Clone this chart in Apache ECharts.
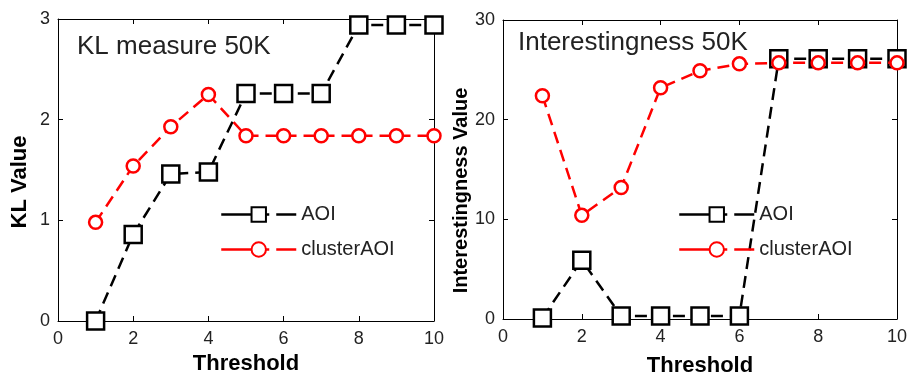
<!DOCTYPE html>
<html><head><meta charset="utf-8">
<script src="https://cdn.jsdelivr.net/npm/echarts@6/dist/echarts.min.js"></script>
<style>html,body{margin:0;padding:0;background:#fff}#c{width:911px;height:382px}</style>
</head><body><div id="c"></div>
<script>
const thresholds = [1,2,3,4,5,6,7,8,9,10];
const klAOI = [0, 0.86, 1.46, 1.48, 2.26, 2.26, 2.26, 2.94, 2.94, 2.94];
const klCluster = [0.98, 1.54, 1.93, 2.25, 1.84, 1.84, 1.84, 1.84, 1.84, 1.84];
const intAOI = [0.1, 5.9, 0.3, 0.3, 0.3, 0.3, 26.1, 26.1, 26.1, 26.1];
const intCluster = [22.4, 10.4, 13.2, 23.2, 24.9, 25.6, 25.7, 25.7, 25.7, 25.7];
const panelTitles = ['KL measure 50K', 'Interestingness 50K'];
const yNames = ['KL Value', 'Interestingness Value'];
const xName = 'Threshold';
const seriesNames = ['AOI', 'clusterAOI'];

const FONT = 'Liberation Sans';
const pairs = (ys) => thresholds.map((x, i) => [x, ys[i]]);

const chart = echarts.init(document.getElementById('c'), null, {renderer: 'canvas'});

function xAxes(gi, gap) {
  return [
    {gridIndex: gi, type: 'value', min: 0, max: 10, interval: 2,
     name: xName, nameLocation: 'middle', nameGap: gap,
     nameTextStyle: {fontFamily: FONT, fontWeight: 'bold', fontSize: 22, color: '#000'},
     axisLine: {onZero: false, lineStyle: {color: '#000', width: 1}},
     axisTick: {inside: true, length: 5, lineStyle: {color: '#000'}},
     axisLabel: {fontFamily: FONT, fontSize: 18, color: '#222', margin: 9},
     splitLine: {show: false}},
    {gridIndex: gi, type: 'value', min: 0, max: 10, interval: 2, position: 'top',
     axisLine: {onZero: false, lineStyle: {color: '#000', width: 1}},
     axisTick: {inside: true, length: 5, lineStyle: {color: '#000'}},
     axisLabel: {show: false}, splitLine: {show: false}}
  ];
}
function yAxes(gi, max, interval, gap, size, shift) {
  return [
    {gridIndex: gi, type: 'value', min: 0, max: max, interval: interval,
     name: yNames[gi], nameLocation: 'middle', nameGap: gap, nameRotate: 90,
     nameTextStyle: {fontFamily: FONT, fontWeight: 'bold', fontSize: size, color: '#000', padding: [0, shift, 0, 0]},
     axisLine: {show: true, onZero: false, lineStyle: {color: '#000', width: 1}},
     axisTick: {show: true, inside: true, length: 5, lineStyle: {color: '#000'}},
     axisLabel: {fontFamily: FONT, fontSize: 18, color: '#222', margin: 8},
     splitLine: {show: false}},
    {gridIndex: gi, type: 'value', min: 0, max: max, interval: interval, position: 'right',
     axisLine: {show: true, onZero: false, lineStyle: {color: '#000', width: 1}},
     axisTick: {show: true, inside: true, length: 5, lineStyle: {color: '#000'}},
     axisLabel: {show: false}, splitLine: {show: false}}
  ];
}
function mkSeries(name, data, gi, color, symbol, size) {
  return {
    name: name, type: 'line', xAxisIndex: gi * 2, yAxisIndex: gi * 2,
    data: data, symbol: symbol, symbolSize: size, showAllSymbol: true,
    lineStyle: {color: color, width: 2.5, type: [12, 7]},
    itemStyle: {color: '#fff', borderColor: color, borderWidth: 2.5},
    emphasis: {disabled: true}, animation: false, z: name === 'AOI' ? 2 : 3
  };
}
function mkLegend(left) {
  return {data: seriesNames, orient: 'vertical', left: left, top: 204, padding: 0,
    itemWidth: 75, itemHeight: 18, itemGap: 14,
    lineStyle: {type: [48, 7], width: 2.5},
    textStyle: {fontFamily: FONT, fontSize: 20, color: '#222', lineHeight: 21},
    selectedMode: false};
}

const option = {
  animation: false,
  backgroundColor: '#fff',
  grid: [
    {left: 58, right: 477, top: 19, bottom: 61},
    {left: 503, right: 14, top: 20, bottom: 62}
  ],
  xAxis: [...xAxes(0, 29), ...xAxes(1, 36)],
  yAxis: [...yAxes(0, 3, 1, 27, 22, 24), ...yAxes(1, 30, 10, 30, 20, 42)],
  title: [
    {text: panelTitles[0], left: 72, top: 29, textStyle: {fontFamily: FONT, fontWeight: 'normal', fontSize: 26, color: '#222'}},
    {text: panelTitles[1], left: 513, top: 25, textStyle: {fontFamily: FONT, fontWeight: 'normal', fontSize: 26, color: '#222'}}
  ],
  legend: [mkLegend(220), mkLegend(678)],
  series: [
    mkSeries('AOI', pairs(klAOI), 0, '#000', 'rect', 17),
    mkSeries('clusterAOI', pairs(klCluster), 0, '#ff0000', 'circle', 13),
    mkSeries('AOI', pairs(intAOI), 1, '#000', 'rect', 17),
    mkSeries('clusterAOI', pairs(intCluster), 1, '#ff0000', 'circle', 13)
  ]
};
chart.setOption(option);
</script>
</body></html>
